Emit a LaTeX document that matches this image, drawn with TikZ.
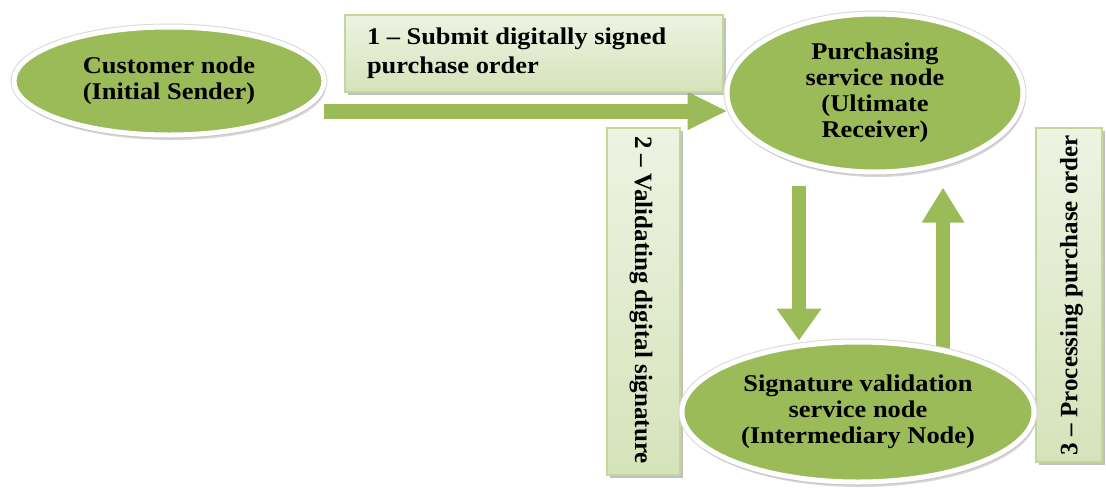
\documentclass[tikz,border=0pt]{standalone}
\usepackage{fontspec}
\usepackage{graphicx}
\newfontfamily\hfont{Liberation Serif}[FakeStretch=1.1]
\newfontfamily\vfont{Liberation Serif}
\usetikzlibrary{shapes.geometric,arrows.meta,shadows}
\pgfdeclarelayer{background}
\pgfsetlayers{background,main}

\definecolor{leaf}{HTML}{9BBB59}
\definecolor{paletop}{HTML}{EEF3E2}
\definecolor{palebot}{HTML}{D5E3BA}
\definecolor{paleedge}{HTML}{C3D69B}

\newcommand\ovaltext[2]{\raisebox{#1}{\begin{tabular}{@{}c@{}}#2\end{tabular}}}

\tikzset{
  oval/.style={ellipse, inner sep=0pt, fill=leaf, draw=white, line width=5pt,
    preaction={draw=black!15, line width=7pt},
    drop shadow={shadow xshift=2pt, shadow yshift=-5pt, fill=black!30, opacity=0.5},
    font=\hfont\bfseries\fontsize{24}{26}\selectfont},
  labelbox/.style={rectangle, inner sep=0pt, draw=paleedge, line width=1.2pt,
    top color=paletop, bottom color=palebot,
    drop shadow={shadow xshift=3pt, shadow yshift=-3pt, fill=black!40, opacity=0.6}},
  flow/.style={draw=leaf, line width=#1},
}

\begin{document}
\begin{tikzpicture}[x=1pt, y=-1pt]
  \begin{pgfonlayer}{background}
    \fill[white] (0,0) rectangle (1106,488);
  \end{pgfonlayer}
  \useasboundingbox (0,0) rectangle (1106,488);

  % message boxes
  \node[labelbox, minimum width=378pt, minimum height=77pt,
        font=\hfont\bfseries\fontsize{24}{29}\selectfont]
        (msg1) at (534,53.5)
        {\raisebox{-4pt}{\parbox{334pt}{\raggedright 1 – Submit digitally signed\\purchase order}}};
  \node[labelbox, minimum width=73pt, minimum height=347pt,
        font=\vfont\bfseries\fontsize{25}{28}\selectfont]
        (msg2) at (643.5,301.5)
        {\kern-5pt\rotatebox{-90}{\makebox[331pt][l]{2 – Validating digital signature}}};
  \node[labelbox, minimum width=66pt, minimum height=334pt,
        font=\vfont\bfseries\fontsize{25}{28}\selectfont]
        (msg3) at (1069,295)
        {\kern5pt\rotatebox{90}{\makebox[320pt][l]{3 – Processing purchase order}}};

  % service nodes
  \node[oval, minimum width=310pt, minimum height=108pt] (cust) at (169,81)
        {\ovaltext{-5pt}{Customer node\\(Initial Sender)}};
  \node[oval, minimum width=296pt, minimum height=158pt] (purch) at (875,93)
        {\ovaltext{-8pt}{Purchasing\\service node\\(Ultimate\\Receiver)}};
  \node[oval, minimum width=352pt, minimum height=140pt] (sig) at (858,412)
        {\ovaltext{0pt}{Signature validation\\service node\\(Intermediary Node)}};

  % message flow arrows, kept behind the nodes
  \begin{pgfonlayer}{background}
    \draw[flow=15pt, -{Triangle[length=40pt, width=35pt, fill=leaf]}]
      ([xshift=-3pt, yshift=-30pt]cust.east) -- ([xshift=3pt, yshift=-18pt]purch.west);
    \draw[flow=14pt, -{Triangle[length=32pt, width=43pt, fill=leaf]}]
      ([xshift=-76pt, yshift=-11pt]purch.south) -- ([xshift=-59pt, yshift=-1pt]sig.north);
    \draw[flow=14pt, -{Triangle[length=35pt, width=40pt, fill=leaf]}]
      ([xshift=85pt, yshift=-9pt]sig.north) -- ([xshift=68pt, yshift=-13pt]purch.south);
  \end{pgfonlayer}
\end{tikzpicture}
\end{document}
